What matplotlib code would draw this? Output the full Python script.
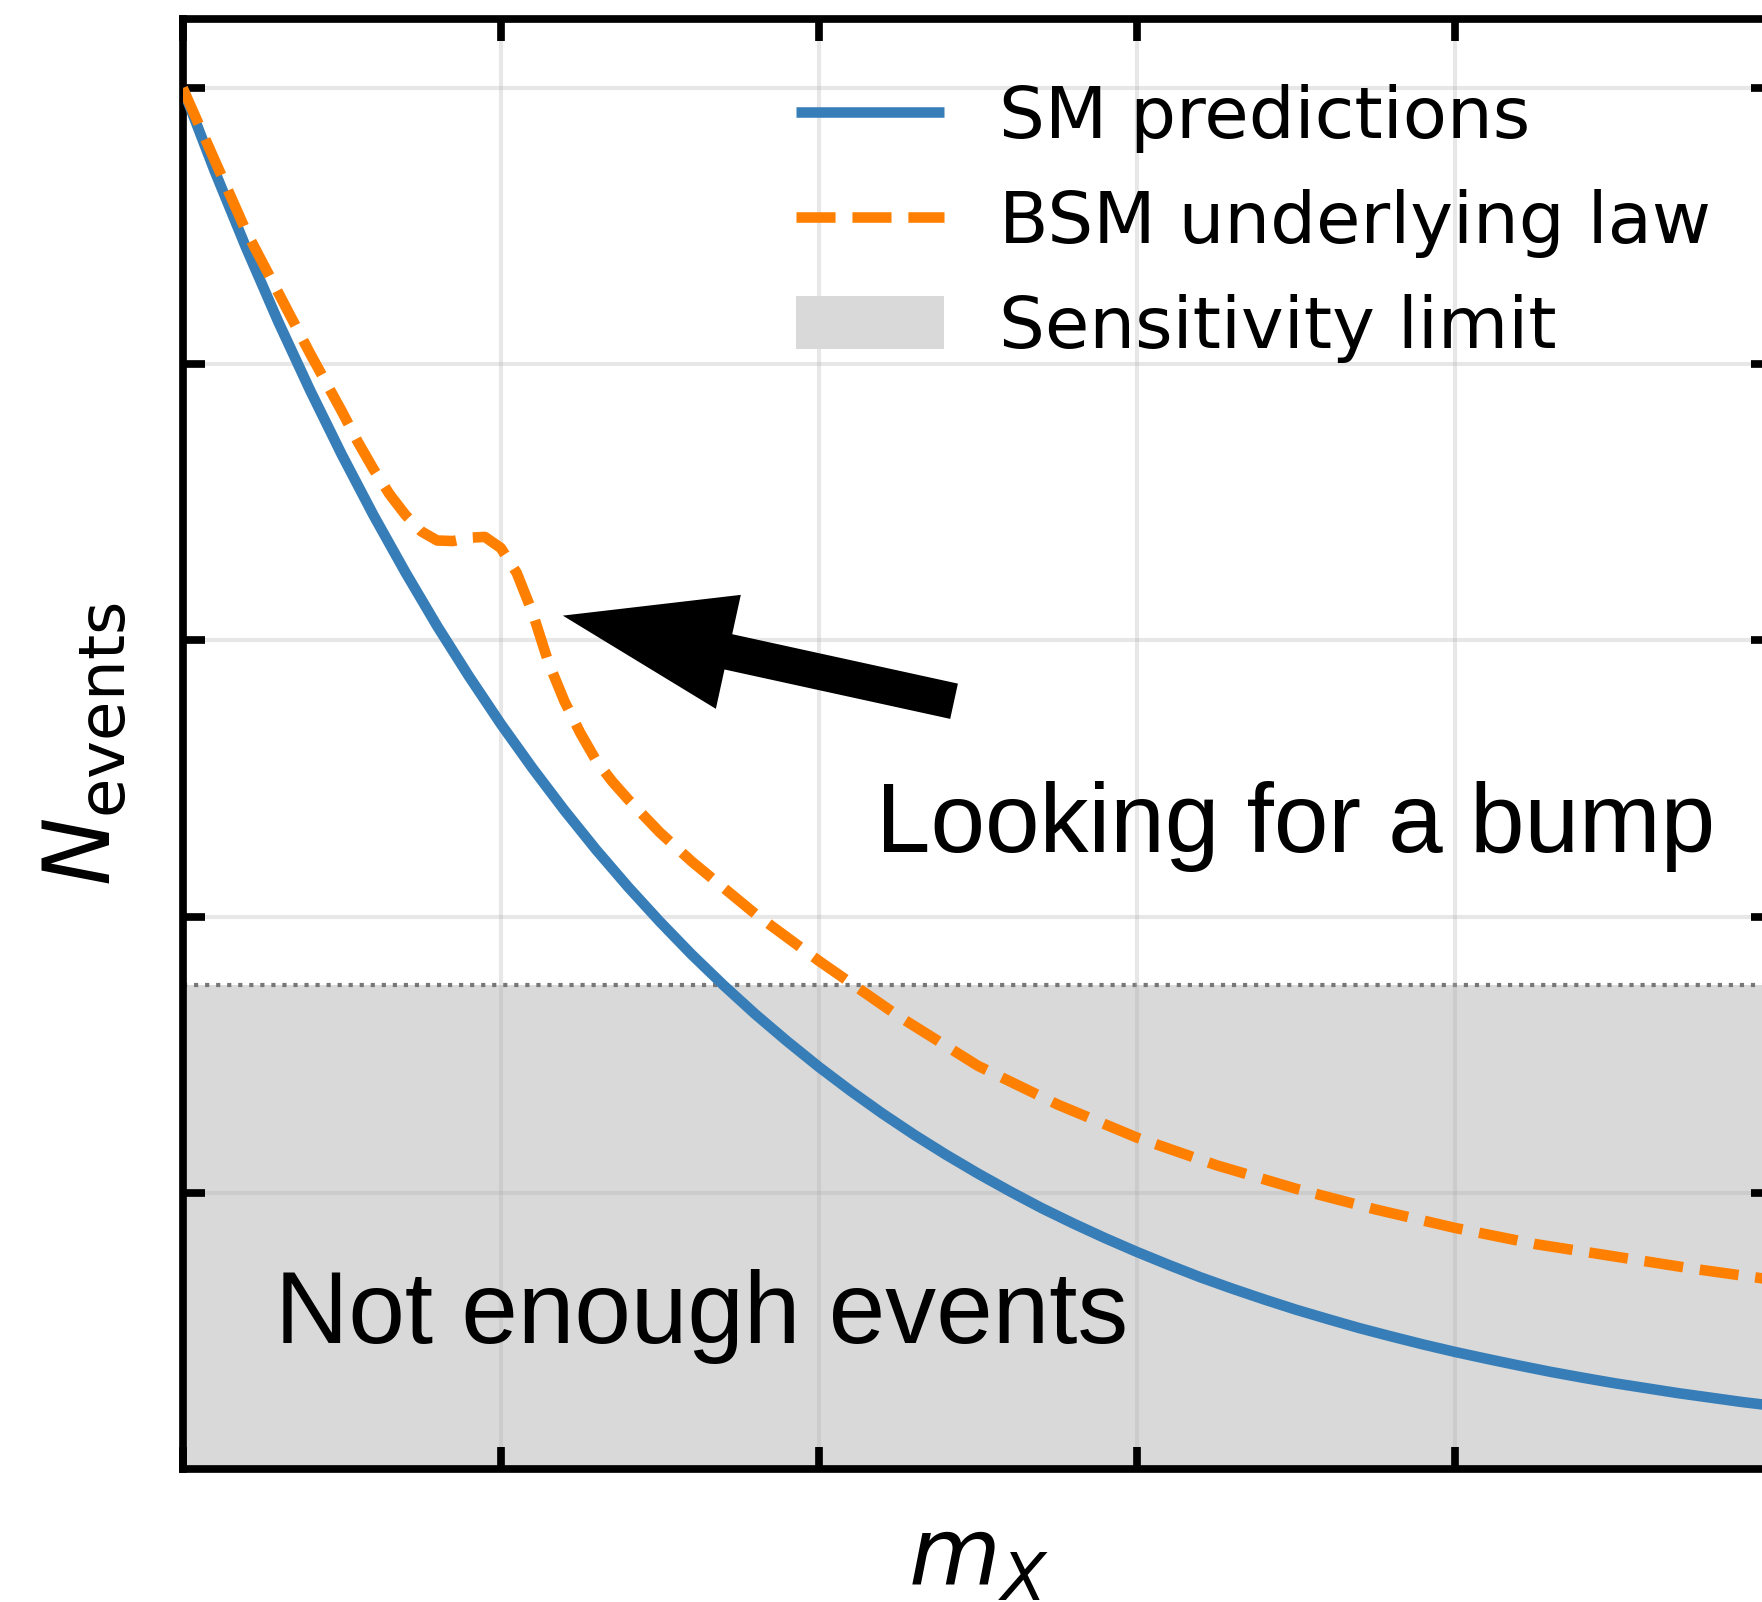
"""
Sketch: SM prediction vs. BSM law with a bump, and the sensitivity floor.

Output:
    out.png
"""

from __future__ import annotations

import matplotlib

matplotlib.use("Agg")
import matplotlib.pyplot as plt


# values
sm_mass = [round(0.1 * i, 1) for i in range(51)]
sm_events = [5.000, 4.701, 4.420, 4.155, 3.907, 3.673, 3.453, 3.247, 3.052,
             2.870, 2.698, 2.537, 2.385, 2.242, 2.108, 1.982, 1.863, 1.752,
             1.647, 1.549, 1.456, 1.369, 1.287, 1.210, 1.138, 1.070, 1.006,
             0.945, 0.889, 0.836, 0.786, 0.739, 0.694, 0.653, 0.614, 0.577,
             0.543, 0.510, 0.480, 0.451, 0.424, 0.399, 0.375, 0.352, 0.331,
             0.311, 0.293, 0.275, 0.259, 0.243, 0.229]

bsm_mass = [0.0, 0.1, 0.2, 0.3, 0.4, 0.5, 0.55, 0.6, 0.65, 0.7, 0.75, 0.8,
            0.85, 0.9, 0.95, 1.0, 1.05, 1.1, 1.15, 1.2, 1.25, 1.3, 1.35, 1.4,
            1.5, 1.6, 1.7, 1.8, 1.9, 2.0, 2.25, 2.5, 2.75, 3.0, 3.25, 3.5,
            3.75, 4.0, 4.25, 4.5, 4.75, 5.0]
bsm_events = [5.00, 4.74, 4.48, 4.26, 4.04, 3.83, 3.72, 3.62, 3.53, 3.455,
              3.395, 3.362, 3.36, 3.372, 3.375, 3.335, 3.245, 3.10, 2.92,
              2.78, 2.665, 2.565, 2.49, 2.425, 2.305, 2.20, 2.105, 2.01,
              1.925, 1.84, 1.64, 1.46, 1.32, 1.20, 1.10, 1.015, 0.94, 0.873,
              0.815, 0.77, 0.725, 0.685]

sensitivity_limit = 1.754

x_ticks = [0, 1, 2, 3, 4, 5]
y_ticks = [1, 2, 3, 4, 5]

arrow_tail = (2.425, 2.78)
arrow_head = (1.195, 3.09)

BLUE = "#377eb8"
ORANGE = "#ff7f00"
FILL = "#d9d9d9"


def make_figure() -> None:
    fig = plt.figure(figsize=(8.81, 8.01), dpi=200)
    ax = fig.add_axes([0.1037, 0.0830, 0.9026, 0.9051])

    band = ax.axhspan(0, sensitivity_limit, color=FILL, lw=0,
                      label="Sensitivity limit", zorder=1)
    ax.axhline(sensitivity_limit, color="#777777", ls=":", lw=1.5, zorder=1.2)

    (sm_line,) = ax.plot(sm_mass, sm_events, color=BLUE, lw=3.8,
                         solid_capstyle="butt", label="SM predictions",
                         zorder=3)
    (bsm_line,) = ax.plot(bsm_mass, bsm_events, color=ORANGE, lw=3.8,
                          ls="--", label="BSM underlying law", zorder=3)

    ax.annotate(
        "",
        xy=arrow_head,
        xytext=arrow_tail,
        arrowprops=dict(facecolor="black", edgecolor="none", width=13,
                        headwidth=42, headlength=61, shrink=0.0),
        zorder=4,
    )

    ax.text(2.18, 2.233, "Looking for a bump", fontsize=35.3,
            family="Liberation Sans", ha="left", va="baseline")
    ax.text(0.29, 0.455, "Not enough events", fontsize=36.6,
            family="Liberation Sans", ha="left", va="baseline")

    ax.set_xlim(0, 5)
    ax.set_ylim(0, 5.25)
    ax.set_xticks(x_ticks)
    ax.set_yticks(y_ticks)
    ax.tick_params(direction="in", length=7.8, width=2.77, top=True,
                   right=True, labelbottom=False, labelleft=False)
    for spine in ax.spines.values():
        spine.set_linewidth(2.77)
    ax.grid(True, color="#b0b0b0", alpha=0.3, lw=1.45)

    ax.set_xlabel(r"$m_X$", fontsize=34, labelpad=16)
    ax.set_ylabel(r"$N_{\rm events}$", fontsize=33, labelpad=19)

    ax.legend(
        handles=[sm_line, bsm_line, band],
        loc="upper left",
        bbox_to_anchor=(0.3854, 0.9555),
        frameon=False,
        fontsize=26,
        handlelength=2.05,
        handleheight=0.75,
        handletextpad=0.77,
        labelspacing=0.5,
        borderpad=0,
        borderaxespad=0,
    )

    fig.savefig("out.png", dpi=200)
    plt.close(fig)


if __name__ == "__main__":
    make_figure()
